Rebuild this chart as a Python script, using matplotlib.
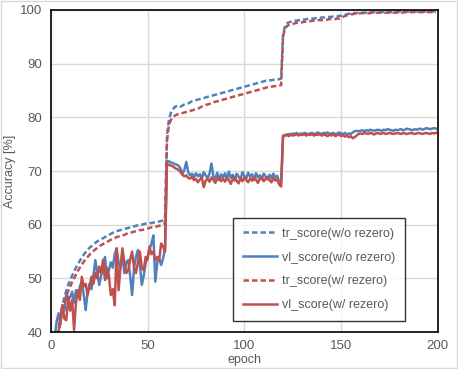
import numpy as np
import matplotlib.pyplot as plt
from matplotlib.patches import Rectangle

plt.rcParams['font.family'] = ['Liberation Sans', 'DejaVu Sans']

# epochs 0..199
epoch = np.arange(200)

tr_wo = [25, 30, 34, 37.5, 40.5, 43.0, 45.0, 46.5, 47.7, 48.8,
         49.7, 50.5, 51.3, 52.0, 52.7, 53.3, 53.9, 54.4, 54.9, 55.3,
         55.7, 56.0, 56.3, 56.6, 56.9, 57.1, 57.3, 57.5, 57.7, 57.9,
         58.1, 58.3, 58.5, 58.6, 58.8, 58.9, 59.0, 59.1, 59.2, 59.3,
         59.4, 59.5, 59.6, 59.7, 59.8, 59.9, 60.0, 60.0, 60.1, 60.2,
         60.2, 60.3, 60.3, 60.4, 60.5, 60.5, 60.6, 60.7, 60.8, 60.9,
         76.5, 79.5, 80.8, 81.5, 81.9, 82.1, 82.2, 82.0, 82.2, 82.4,
         82.5, 82.6, 82.8, 83.0, 83.1, 83.2, 83.3, 83.4, 83.5, 83.6,
         83.7, 83.8, 83.9, 84.0, 84.1, 84.2, 84.3, 84.4, 84.5, 84.6,
         84.7, 84.8, 84.9, 85.0, 85.1, 85.2, 85.3, 85.4, 85.5, 85.6,
         85.7, 85.8, 85.9, 86.0, 86.1, 86.2, 86.3, 86.4, 86.5, 86.6,
         86.7, 86.8, 86.8, 86.9, 86.9, 87.0, 87.0, 87.1, 87.1, 87.2,
         95.5, 97.0, 97.5, 97.7, 97.8, 97.9, 98.0, 98.0, 98.1, 98.1,
         98.2, 98.2, 98.3, 98.3, 98.4, 98.4, 98.4, 98.5, 98.5, 98.5,
         98.6, 98.6, 98.6, 98.7, 98.7, 98.7, 98.8, 98.8, 98.8, 98.9,
         98.9, 99.0, 99.1, 99.2, 99.3, 99.3, 99.4, 99.4, 99.4, 99.5,
         99.5, 99.5, 99.5, 99.5, 99.5, 99.6, 99.6, 99.6, 99.6, 99.6,
         99.6, 99.6, 99.6, 99.6, 99.6, 99.6, 99.6, 99.7, 99.7, 99.7,
         99.7, 99.7, 99.7, 99.7, 99.7, 99.7, 99.7, 99.7, 99.7, 99.7,
         99.7, 99.7, 99.7, 99.7, 99.7, 99.7, 99.7, 99.7, 99.7, 99.7]

vl_wo = [30, 35, 39, 42, 43.5, 41.5, 45.0, 44.0, 47.2, 46.0,
         46.5, 47.5, 45.5, 47.8, 46.5, 48.5, 49.4, 47.0, 44.1, 47.5,
         49.0, 48.0, 50.5, 53.4, 51.0, 48.8, 50.5, 52.0, 54.0, 50.0,
         51.5, 53.0, 52.0, 54.5, 55.6, 53.0, 52.0, 54.5, 51.0, 53.0,
         53.4, 50.5, 46.9, 52.0, 54.0, 55.3, 52.5, 48.8, 50.5, 52.8,
         54.0, 55.5, 56.5, 58.0, 49.4, 53.0, 53.7, 52.5, 53.7, 55.5,
         71.9, 71.8, 71.6, 71.5, 71.3, 71.2, 71.0, 70.5, 69.5, 70.2,
         71.7, 69.8, 69.2, 69.5, 68.8, 69.6, 69.0, 69.4, 68.6, 69.8,
         69.2, 68.7, 69.5, 71.4, 69.0, 68.5, 69.7, 68.3, 69.4, 68.8,
         69.6, 68.4, 69.9, 68.7, 69.3, 68.2, 69.5, 69.0, 68.4, 69.8,
         69.1, 68.6, 69.7, 68.9, 69.4, 68.3, 69.6, 68.8, 69.2, 68.5,
         69.5, 69.0, 68.4, 69.3, 68.7, 69.5, 68.8, 69.1, 68.0, 67.8,
         76.6, 76.7, 76.8, 76.9, 76.8, 77.0, 76.9, 77.1, 76.8, 77.0,
         76.9, 77.1, 77.0, 76.8, 77.0, 77.1, 76.9, 77.0, 77.2, 77.0,
         76.9, 77.1, 77.0, 77.2, 76.9, 77.0, 77.1, 76.8, 77.0, 77.2,
         77.0, 76.9, 77.1, 76.8, 77.0, 76.9, 77.2, 77.4, 77.5, 77.4,
         77.5, 77.6, 77.4, 77.6, 77.5, 77.7, 77.6, 77.5, 77.6, 77.7,
         77.6, 77.5, 77.7, 77.6, 77.8, 77.7, 77.6, 77.5, 77.7, 77.6,
         77.7, 77.8, 77.6, 77.7, 77.9, 77.8, 77.7, 77.6, 77.8, 77.7,
         77.8, 77.9, 77.7, 77.8, 78.0, 77.9, 77.8, 77.9, 78.0, 77.9]

tr_w = [24, 29, 33, 36.5, 39.5, 42.0, 44.0, 45.5, 46.7, 47.7,
        48.5, 49.3, 50.0, 50.7, 51.4, 52.0, 52.6, 53.1, 53.6, 54.0,
        54.4, 54.8, 55.1, 55.4, 55.7, 56.0, 56.2, 56.4, 56.6, 56.8,
        57.0, 57.2, 57.4, 57.5, 57.7, 57.8, 57.9, 58.0, 58.1, 58.3,
        58.4, 58.5, 58.6, 58.7, 58.8, 58.9, 59.0, 59.0, 59.1, 59.2,
        59.3, 59.4, 59.5, 59.5, 59.6, 59.7, 59.8, 59.9, 60.0, 60.2,
        75.5, 78.5, 79.5, 80.0, 80.3, 80.5, 80.6, 80.7, 80.8, 80.9,
        81.0, 81.1, 81.2, 81.3, 81.4, 81.5, 81.6, 81.8, 82.0, 82.1,
        82.3, 82.4, 82.5, 82.7, 82.8, 82.9, 83.0, 83.1, 83.2, 83.3,
        83.4, 83.5, 83.6, 83.7, 83.8, 83.9, 84.0, 84.1, 84.2, 84.3,
        84.4, 84.5, 84.6, 84.7, 84.8, 84.9, 85.0, 85.1, 85.2, 85.3,
        85.4, 85.5, 85.6, 85.6, 85.7, 85.8, 85.8, 85.9, 85.9, 86.0,
        95.0, 96.5, 97.0, 97.2, 97.3, 97.4, 97.5, 97.6, 97.6, 97.7,
        97.7, 97.8, 97.8, 97.9, 97.9, 98.0, 98.0, 98.0, 98.1, 98.1,
        98.1, 98.2, 98.2, 98.2, 98.3, 98.3, 98.3, 98.3, 98.4, 98.4,
        98.5, 98.7, 98.9, 99.0, 99.1, 99.2, 99.2, 99.3, 99.3, 99.3,
        99.4, 99.4, 99.4, 99.4, 99.4, 99.4, 99.5, 99.5, 99.5, 99.5,
        99.5, 99.5, 99.5, 99.5, 99.5, 99.5, 99.5, 99.5, 99.5, 99.5,
        99.5, 99.5, 99.5, 99.6, 99.6, 99.6, 99.6, 99.6, 99.6, 99.6,
        99.6, 99.6, 99.6, 99.6, 99.6, 99.6, 99.6, 99.6, 99.6, 99.6]

vl_w = [28, 33, 36, 38.5, 40.0, 43.0, 45.0, 42.5, 42.2, 46.6,
        44.0, 46.0, 40.4, 45.5, 47.8, 46.0, 50.3, 48.5, 49.0, 46.9,
        48.5, 50.3, 49.0, 51.0, 50.0, 52.2, 51.0, 53.5, 49.7, 52.0,
        50.5, 46.9, 48.0, 45.0, 55.6, 47.8, 52.0, 55.6, 53.0, 51.0,
        51.5, 53.5, 55.0, 52.0, 51.0, 53.0, 55.0, 52.0, 51.5, 54.0,
        53.5, 55.9, 54.5, 55.0, 53.4, 54.0, 53.4, 56.5, 55.9, 55.0,
        71.1, 71.2, 71.0, 70.9, 70.6, 70.4, 70.2, 69.8, 69.3, 69.0,
        69.2, 68.7, 68.6, 68.9, 68.3, 68.5, 67.9, 68.4, 68.8, 67.0,
        68.2, 68.6, 68.0, 68.8, 68.3, 67.8, 68.5, 68.9, 68.1, 68.6,
        68.0, 68.7, 68.3, 67.6, 68.5, 68.9, 68.2, 67.7, 68.6, 68.1,
        68.8, 68.3, 67.9, 68.6, 68.2, 68.9, 68.4, 67.8, 68.5, 68.7,
        68.1, 68.6, 68.9, 68.3, 67.9, 68.7, 68.2, 68.5, 67.5, 67.1,
        76.5, 76.6, 76.7, 76.5, 76.8, 76.6, 76.7, 76.9, 76.6, 76.8,
        76.7, 76.9, 76.6, 76.8, 76.7, 76.9, 76.6, 76.8, 76.7, 76.9,
        76.6, 76.8, 76.7, 76.5, 76.8, 76.6, 76.9, 76.5, 76.7, 76.8,
        76.5, 76.7, 76.4, 76.6, 76.3, 76.5, 76.1, 76.3, 76.6, 76.9,
        77.0, 76.9, 77.1, 77.0, 76.9, 77.1, 77.0, 76.8, 77.0, 77.1,
        76.9, 77.0, 77.1, 76.9, 77.0, 77.1, 77.0, 76.9, 77.0, 77.1,
        77.0, 76.9, 77.1, 77.0, 76.9, 77.0, 77.1, 77.0, 76.9, 77.0,
        77.1, 77.0, 76.9, 77.0, 77.1, 77.0, 76.9, 77.1, 77.0, 77.1]

blue = '#4F81BD'
red = '#C0504D'
txt = '#595959'

fig = plt.figure(figsize=(4.58, 3.69), dpi=100)
ax = fig.add_axes([0.111, 0.100, 0.845, 0.873])

lw = 1.8
ax.plot(epoch, tr_wo, color=blue, lw=lw, ls=(0, (2.2, 1.2)), label='tr_score(w/o rezero)')
ax.plot(epoch, vl_wo, color=blue, lw=lw, label='vl_score(w/o rezero)')
ax.plot(epoch, tr_w, color=red, lw=lw, ls=(0, (2.2, 1.2)), label='tr_score(w/ rezero)')
ax.plot(epoch, vl_w, color=red, lw=lw, label='vl_score(w/ rezero)')

ax.set_xlim(0, 200)
ax.set_ylim(40, 100)
ax.set_xticks([0, 50, 100, 150, 200])
ax.set_yticks(range(40, 101, 10))
ax.grid(True, color='#D9D9D9', lw=1)
ax.set_axisbelow(True)
ax.tick_params(length=0, labelsize=9.5, colors=txt, pad=6)
for s in ax.spines.values():
    s.set_color('black')
    s.set_linewidth(1.2)

ax.set_xlabel('epoch', fontsize=9, color=txt, labelpad=1)
ax.set_ylabel('Accuracy [%]', fontsize=9, color=txt, labelpad=3)

leg = ax.legend(loc='center', bbox_to_anchor=(0.475, 0.047, 0.437, 0.295),
                fontsize=9, frameon=True, fancybox=False, handlelength=2.7,
                handletextpad=0.4, labelspacing=0.95, borderpad=0.8)
leg.get_frame().set_edgecolor('black')
leg.get_frame().set_linewidth(1.0)
for t in leg.get_texts():
    t.set_color(txt)

fig.patches.append(Rectangle((0.002, 0.003), 0.995, 0.994, transform=fig.transFigure,
                             fill=False, edgecolor='#D9D9D9', lw=1))

fig.savefig('out.png', dpi=100)
